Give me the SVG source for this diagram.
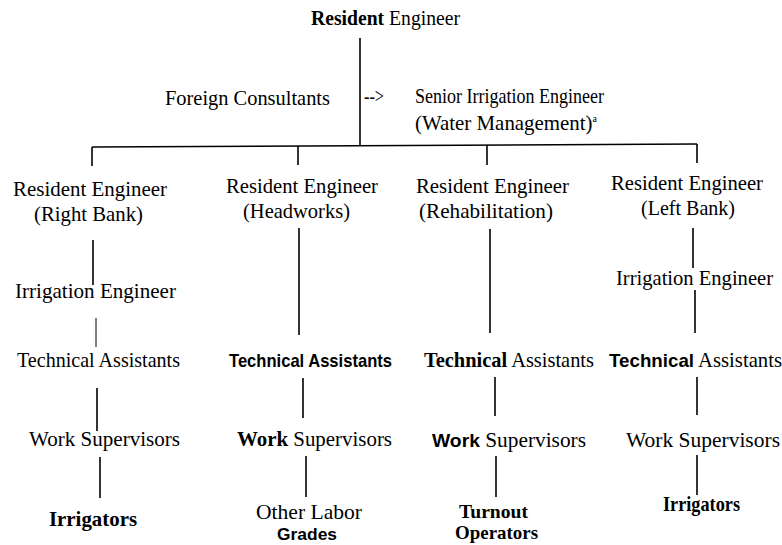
<svg xmlns="http://www.w3.org/2000/svg" width="782" height="545" viewBox="0 0 782 545">
<style>
text{font-family:"Liberation Serif","DejaVu Serif","Noto Serif",serif;font-size:21px;fill:#000}
.b{font-weight:bold}
.s{font-family:"Liberation Sans","DejaVu Sans",Arial,sans-serif;font-weight:bold;font-size:19px}
.sm{font-size:19px}
.sup{font-size:10px}
line{stroke:#000;stroke-width:1.6;fill:none}
.thin{stroke-width:1}
</style>
<rect width="782" height="545" fill="#fff"/>
<g id="connectors">
<line x1="360" y1="38" x2="360" y2="146"/>
<line x1="92" y1="147" x2="697" y2="144"/>
<line x1="92" y1="147" x2="92" y2="166"/>
<line x1="298" y1="146" x2="298" y2="165"/>
<line x1="487" y1="145" x2="487" y2="165"/>
<line x1="697" y1="144" x2="697" y2="163"/>
<line x1="93" y1="240" x2="93" y2="285"/>
<line class="thin" x1="96" y1="318" x2="96" y2="347"/>
<line x1="97" y1="388" x2="97" y2="431"/>
<line x1="100" y1="457" x2="100" y2="498"/>
<line x1="299" y1="228" x2="299" y2="335"/>
<line x1="303" y1="378" x2="303" y2="418"/>
<line x1="306" y1="456" x2="306" y2="497"/>
<line x1="490" y1="229" x2="490" y2="333"/>
<line x1="495" y1="377" x2="495" y2="416"/>
<line x1="496" y1="456" x2="496" y2="497"/>
<line x1="693" y1="228" x2="693" y2="268"/>
<line x1="695" y1="290" x2="695" y2="333"/>
<line x1="697" y1="377" x2="697" y2="415"/>
<line x1="697" y1="455" x2="697" y2="495"/>
</g>
<g id="top">
<text x="311" y="25" textLength="149" lengthAdjust="spacingAndGlyphs"><tspan class="b">Resident</tspan> Engineer</text>
</g>
<g id="foreign">
<text x="165" y="105" textLength="165" lengthAdjust="spacingAndGlyphs">Foreign Consultants</text>
</g>
<g id="arrow-label">
<text x="364" y="103" textLength="20" lengthAdjust="spacingAndGlyphs">--&gt;</text>
</g>
<g id="senior">
<text x="415" y="103" textLength="189" lengthAdjust="spacingAndGlyphs">Senior Irrigation Engineer</text>
<text x="415" y="130" textLength="182" lengthAdjust="spacingAndGlyphs">(Water Management)<tspan class="sup" dy="-8">a</tspan></text>
</g>
<g id="re-right">
<text x="13" y="196" textLength="154" lengthAdjust="spacingAndGlyphs">Resident Engineer</text>
<text x="34" y="221" textLength="109" lengthAdjust="spacingAndGlyphs">(Right Bank)</text>
</g>
<g id="re-head">
<text x="226" y="193" textLength="152" lengthAdjust="spacingAndGlyphs">Resident Engineer</text>
<text x="243" y="218" textLength="107" lengthAdjust="spacingAndGlyphs">(Headworks)</text>
</g>
<g id="re-rehab">
<text x="416" y="193" textLength="153" lengthAdjust="spacingAndGlyphs">Resident Engineer</text>
<text x="419" y="218" textLength="134" lengthAdjust="spacingAndGlyphs">(Rehabilitation)</text>
</g>
<g id="re-left">
<text x="611" y="190" textLength="152" lengthAdjust="spacingAndGlyphs">Resident Engineer</text>
<text x="641" y="215" textLength="94" lengthAdjust="spacingAndGlyphs">(Left Bank)</text>
</g>
<g id="ie-right">
<text x="15" y="298" textLength="161" lengthAdjust="spacingAndGlyphs">Irrigation Engineer</text>
</g>
<g id="ie-left">
<text x="616" y="285" textLength="157" lengthAdjust="spacingAndGlyphs">Irrigation Engineer</text>
</g>
<g id="ta-right">
<text x="17" y="367" textLength="163" lengthAdjust="spacingAndGlyphs">Technical Assistants</text>
</g>
<g id="ta-head">
<text class="s" x="229" y="367" textLength="163" lengthAdjust="spacingAndGlyphs">Technical Assistants</text>
</g>
<g id="ta-rehab">
<text x="424" y="367" textLength="170" lengthAdjust="spacingAndGlyphs"><tspan class="b">Technical</tspan> Assistants</text>
</g>
<g id="ta-left">
<text x="609" y="367" textLength="173" lengthAdjust="spacingAndGlyphs"><tspan class="s">Technical</tspan> Assistants</text>
</g>
<g id="ws-right">
<text x="29" y="446" textLength="151" lengthAdjust="spacingAndGlyphs">Work Supervisors</text>
</g>
<g id="ws-head">
<text x="237" y="446" textLength="155" lengthAdjust="spacingAndGlyphs"><tspan class="b">Work</tspan> Supervisors</text>
</g>
<g id="ws-rehab">
<text x="432" y="447" textLength="154" lengthAdjust="spacingAndGlyphs"><tspan class="s">Work</tspan> Supervisors</text>
</g>
<g id="ws-left">
<text x="626" y="447" textLength="154" lengthAdjust="spacingAndGlyphs">Work Supervisors</text>
</g>
<g id="irr-right">
<text class="b" x="49" y="526" textLength="88" lengthAdjust="spacingAndGlyphs">Irrigators</text>
</g>
<g id="olg-head">
<text x="256" y="519" textLength="106" lengthAdjust="spacingAndGlyphs">Other Labor</text>
<text class="s" x="277" y="540" style="font-size:17px" textLength="60" lengthAdjust="spacingAndGlyphs">Grades</text>
</g>
<g id="to-rehab">
<text class="b sm" x="459" y="518" textLength="69" lengthAdjust="spacingAndGlyphs">Turnout</text>
<text class="b sm" x="455" y="539" textLength="83" lengthAdjust="spacingAndGlyphs">Operators</text>
</g>
<g id="irr-left">
<text class="b" x="663" y="511" textLength="77" lengthAdjust="spacingAndGlyphs">Irrigators</text>
</g>
</svg>
